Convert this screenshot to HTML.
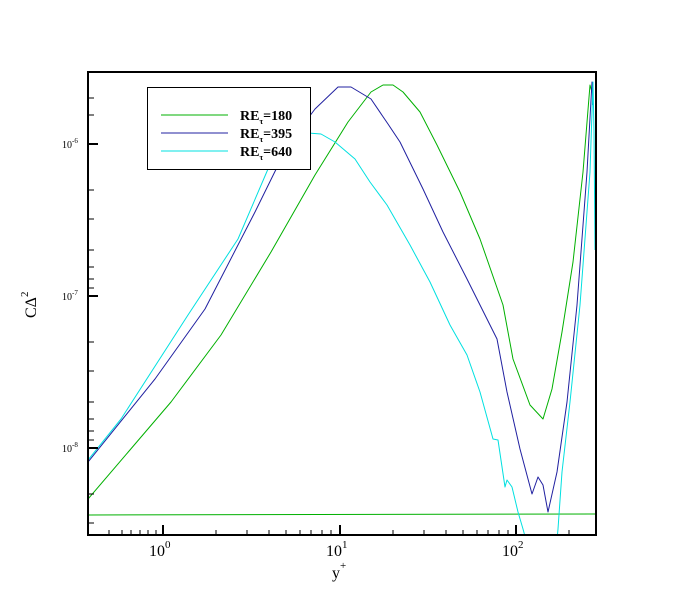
<!DOCTYPE html>
<html><head><style>body{margin:0;background:#fff}svg{display:block}text{font-family:"Liberation Serif",serif}</style></head><body>
<svg width="677" height="602" viewBox="0 0 677 602">
<defs><clipPath id="c"><rect x="88" y="72" width="508" height="463"/></clipPath></defs>
<g clip-path="url(#c)" fill="none" stroke-width="1" stroke-linejoin="round">
<polyline stroke="#00b000" points="88,515 596,514"/>
<polyline stroke="#00b000" points="88,499 171,402 221,335 271,252 315,175 348,122 371,92 383,85 393,85 403,92 420,112 437,145 460,192 480,239 503,305 513,359 530,405 543,419 552,389 562,332 573,262 583,172 590,85 592,92"/>
<polyline stroke="#2020a0" points="88,462 155,379 205,309 255,212 288,145 315,109 338,87 351,87 371,99 388,124 400,142 423,189 443,232 467,279 490,325 497,339 507,392 520,449 532,494 538,477 543,485 548,512 557,472 567,402 577,305 587,172 592,82 593,105"/>
<polyline stroke="#00e0e0" points="88,460 121,419 188,315 238,239 268,169 288,144 308,133 321,134 335,142 355,159 370,182 387,205 410,245 430,282 450,325 467,355 480,392 493,439 498,440 505,487 507,480 512,487 518,512 523,529 526,540"/>
<polyline stroke="#00e0e0" points="557,540 558,529 562,472 570,402 580,305 590,172 593,82 594,132 595,250"/>
</g>
<rect x="88" y="72" width="508" height="463" fill="none" stroke="#000" stroke-width="2"/>
<g stroke="#000" stroke-width="1">
<path d="M163,535v-10M340,535v-10M516,535v-10M88,144h10M88,296h10M88,448h10" stroke-width="2"/>
<path d="M109,535v-5M122,535v-5M131,535v-5M140,535v-5M148,535v-5M156,535v-5M216,535v-5M247,535v-5M269,535v-5M286,535v-5M300,535v-5M311,535v-5M322,535v-5M331,535v-5M393,535v-5M424,535v-5M446,535v-5M463,535v-5M477,535v-5M488,535v-5M499,535v-5M508,535v-5M569,535v-5"/>
<path d="M88,98h6M88,115h6M88,190h6M88,219h6M88,250h6M88,267h6M88,279h6M88,288h6M88,342h6M88,371h6M88,402h6M88,419h6M88,431h6M88,440h6M88,494h6M88,523h6"/>
</g>
<g font-size="10"><text x="62" y="148">10<tspan font-size="7" dy="-5">-6</tspan></text>
<text x="62" y="300">10<tspan font-size="7" dy="-5">-7</tspan></text>
<text x="62" y="452">10<tspan font-size="7" dy="-5">-8</tspan></text></g>
<g font-size="16"><text x="149" y="556">10<tspan font-size="11" dy="-8">0</tspan></text>
<text x="326" y="556">10<tspan font-size="11" dy="-8">1</tspan></text>
<text x="502" y="556">10<tspan font-size="11" dy="-8">2</tspan></text>
<text x="332" y="578">y<tspan font-size="11" dy="-9">+</tspan></text></g>
<text font-size="16" transform="translate(36,318) rotate(-90)">CΔ<tspan font-size="11" dy="-8">2</tspan></text>
<rect x="147.5" y="87.5" width="163" height="82" fill="#fff" stroke="#000"/>
<path d="M161,115h67" stroke="#00b000"/><path d="M161,133h67" stroke="#2020a0"/><path d="M161,151h67" stroke="#00e0e0"/>
<g font-size="14" font-weight="bold"><text x="240" y="120">RE<tspan font-size="8" dy="4">τ</tspan><tspan dy="-4">=180</tspan></text>
<text x="240" y="138">RE<tspan font-size="8" dy="4">τ</tspan><tspan dy="-4">=395</tspan></text>
<text x="240" y="156">RE<tspan font-size="8" dy="4">τ</tspan><tspan dy="-4">=640</tspan></text></g>
</svg></body></html>
